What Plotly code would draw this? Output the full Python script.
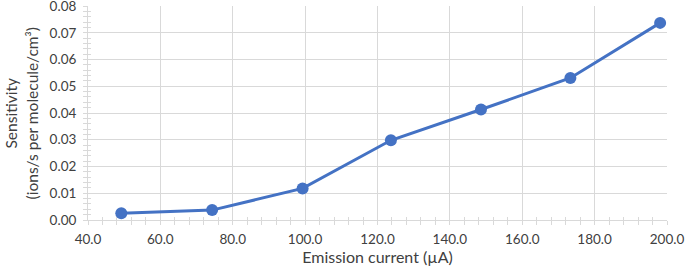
import plotly.graph_objects as go

emission_current = [49.2, 74.3, 99.3, 123.7, 148.6, 173.3, 198.1]
sensitivity = [0.0025, 0.0037, 0.0118, 0.0298, 0.0413, 0.0531, 0.0737]

x_title = "Emission current (µA)"
y_title = "Sensitivity<br>(ions/s per molecule/cm³)"

FONT = "Lato"
TXT = "#404040"
GRID = "#d9d9d9"

fig = go.Figure()
fig.add_trace(go.Scatter(
    x=emission_current, y=sensitivity, mode="lines+markers",
    line=dict(color="#4472C4", width=3),
    marker=dict(color="#4472C4", size=12),
    cliponaxis=False, showlegend=False,
))
fig.add_trace(go.Scatter(x=[None], y=[None], xaxis="x2", yaxis="y2",
                         showlegend=False, hoverinfo="skip"))

YMAX = 0.08001
XMAX = 200.001

fig.update_layout(
    width=685, height=269,
    margin=dict(l=87.5, r=17.5, t=6, b=48.5, autoexpand=False),
    paper_bgcolor="white", plot_bgcolor="white",
    font=dict(family=FONT, size=13.5, color=TXT),
    xaxis=dict(
        range=[40, XMAX], dtick=20, tickformat=".1f",
        showgrid=True, gridcolor=GRID, gridwidth=1,
        showline=True, linecolor=GRID, linewidth=1,
        ticks="outside", ticklen=4, tickcolor=GRID, ticklabelstandoff=3,
        minor=dict(dtick=4, ticks="outside", ticklen=4, tickcolor=GRID, showgrid=False),
        zeroline=False, automargin=False, ticklabeloverflow="allow",
        title=dict(text=x_title, standoff=3),
    ),
    yaxis=dict(
        range=[0, YMAX], dtick=0.01, tickformat=".2f",
        showgrid=True, gridcolor=GRID, gridwidth=1,
        showline=True, linecolor=GRID, linewidth=1,
        ticks="outside", ticklen=4, tickcolor=GRID, ticklabelstandoff=4,
        minor=dict(dtick=0.002, ticks="outside", ticklen=4, tickcolor=GRID, showgrid=False),
        zeroline=False, automargin=False, ticklabeloverflow="allow",
    ),
    xaxis2=dict(
        overlaying="x", anchor="y", range=[40, XMAX], dtick=20,
        showgrid=False, showticklabels=False, ticks="",
        minor=dict(dtick=4, ticks="inside", ticklen=3, tickcolor=GRID),
        zeroline=False,
    ),
    yaxis2=dict(
        overlaying="y", anchor="x", side="left", range=[0, YMAX], dtick=0.01,
        showgrid=False, showticklabels=False, ticks="",
        minor=dict(dtick=0.002, ticks="inside", ticklen=3, tickcolor=GRID),
        zeroline=False,
    ),
    annotations=[dict(
        text=y_title, textangle=-90, xref="paper", yref="paper",
        x=-0.115, y=0.5, xanchor="center", yanchor="middle",
        showarrow=False, font=dict(family=FONT, size=15.5, color=TXT),
    )],
)

fig.write_html(
    "out.html",
    config={"displayModeBar": False},
    post_script="document.body.style.margin='0';document.body.style.padding='0';",
)
